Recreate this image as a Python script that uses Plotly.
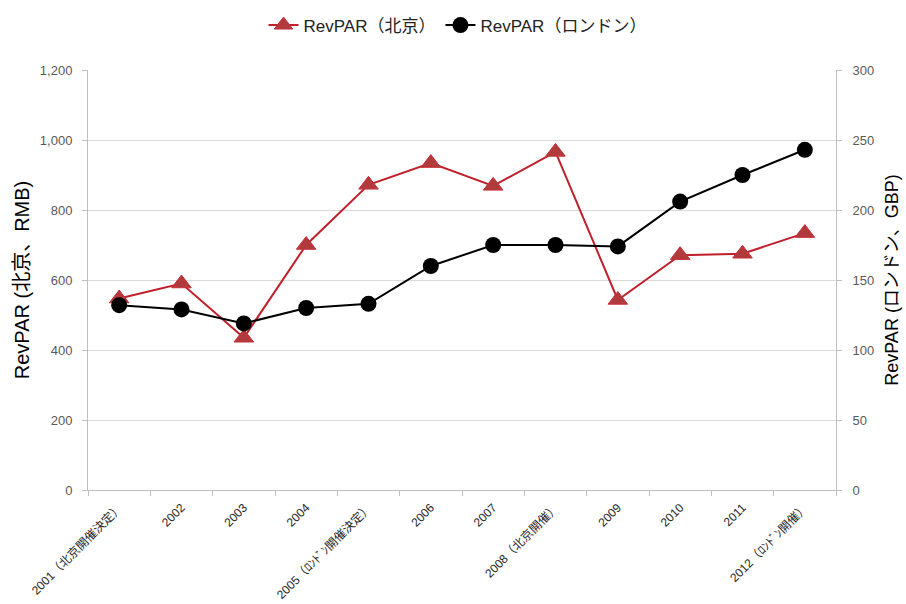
import plotly.graph_objects as go

categories = [
    "2001（北京開催決定）", "2002", "2003", "2004", "2005（ﾛﾝﾄﾞﾝ開催決定）", "2006",
    "2007", "2008（北京開催）", "2009", "2010", "2011", "2012（ﾛﾝﾄﾞﾝ開催）",
]
beijing = [547, 590, 435, 700, 872, 934, 869, 966, 543, 671, 675, 734]
london = [132, 129, 119, 130, 133, 160, 175, 175, 174, 206, 225, 243]

left_ticks = [0, 200, 400, 600, 800, 1000, 1200]
right_ticks = [0, 50, 100, 150, 200, 250, 300]

FONT = "Liberation Sans, Noto Sans CJK JP, sans-serif"
TICK_COLOR = "#595959"
AXIS_LINE = "#BFBFBF"
GRID = "#D9D9D9"

fig = go.Figure()
fig.add_trace(go.Scatter(
    x=categories, y=beijing, name="RevPAR（北京）", mode="lines+markers",
    line=dict(color="#C0202A", width=2),
    marker=dict(symbol="triangle-up", size=17, color="#B03A3C",
                line=dict(color="#C83038", width=1)),
    yaxis="y",
))
fig.add_trace(go.Scatter(
    x=categories, y=london, name="RevPAR（ロンドン）", mode="lines+markers",
    line=dict(color="#000000", width=2),
    marker=dict(symbol="circle", size=16, color="#000000"),
    yaxis="y2",
))

fig.update_layout(
    width=906, height=604,
    margin=dict(l=88, r=70, t=70, b=114, autoexpand=False),
    paper_bgcolor="white", plot_bgcolor="white",
    font=dict(family=FONT, color="#000000"),
    showlegend=True,
    legend=dict(orientation="h", x=0.505, xref="container", xanchor="center",
                y=0.928, yanchor="bottom", yref="container",
                font=dict(size=17, color="#222222"),
                itemwidth=30, traceorder="normal"),
    xaxis=dict(
        type="category", tickangle=-45, tickson="boundaries",
        range=[-0.5, len(categories) - 0.5],
        ticks="outside", ticklen=5, tickcolor=AXIS_LINE,
        ticklabelstandoff=5, automargin=False,
        showline=True, linecolor=AXIS_LINE, linewidth=1,
        showgrid=False, tickfont=dict(size=12, color="#262626", family=FONT),
    ),
    yaxis=dict(
        range=[0, 1200], tickvals=left_ticks, tickformat=",d",
        ticks="outside", ticklen=5, tickcolor=AXIS_LINE,
        ticklabelstandoff=7, automargin=False,
        showline=True, linecolor=AXIS_LINE, linewidth=1,
        showgrid=True, gridcolor=GRID, gridwidth=1,
        zeroline=False,
        tickfont=dict(size=13, color=TICK_COLOR),
        title=dict(text="RevPAR (北京、RMB)", font=dict(size=20, color="#000000"), standoff=4),
    ),
    yaxis2=dict(
        range=[0, 300], tickvals=right_ticks, overlaying="y", side="right",
        ticks="outside", ticklen=5, tickcolor=AXIS_LINE,
        ticklabelstandoff=8, automargin=False,
        showline=True, linecolor=AXIS_LINE, linewidth=1,
        showgrid=False, zeroline=False,
        tickfont=dict(size=13, color=TICK_COLOR),
        title=dict(text="RevPAR (ロンドン、GBP)", font=dict(size=18, color="#000000"), standoff=12),
    ),
)

fig.write_html("out.html")
